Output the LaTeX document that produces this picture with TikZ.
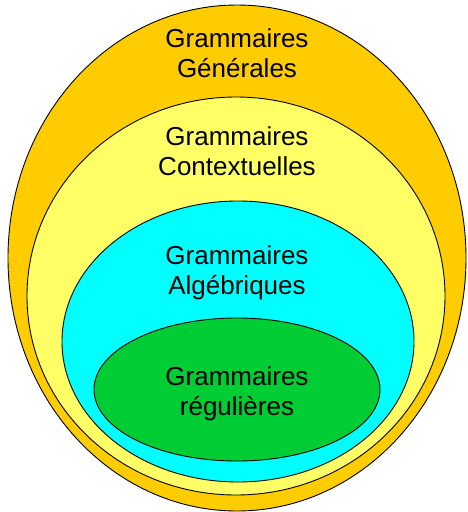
\documentclass[tikz,border=0pt]{standalone}
\usepackage{fontspec}
\setmainfont{Liberation Sans}
\definecolor{generale}{HTML}{FFCC00}
\definecolor{contexte}{HTML}{FFFF66}
\definecolor{algebre}{HTML}{00FFFF}
\definecolor{reguliere}{HTML}{00CC33}

\begin{document}
\begin{tikzpicture}[x=1pt, y=-1pt,
    nom/.style={align=center, font=\fontsize{26}{30}\selectfont}]
    \useasboundingbox (0, 0) rectangle (467, 512);

    \filldraw[fill=generale, line width=0.9pt] (237, 258) ellipse [x radius=229pt, y radius=253pt];
    \filldraw[fill=contexte, line width=0.9pt] (236, 296) ellipse [x radius=209pt, y radius=199pt];
    \filldraw[fill=algebre, line width=0.9pt] (238, 341.5) ellipse [x radius=176pt, y radius=140.5pt];
    \filldraw[fill=reguliere, line width=0.9pt] (237, 389.5) ellipse [x radius=143pt, y radius=71.5pt];

    \node[nom] (gen) at (237, 53) {Grammaires\\Générales};
    \node[nom] (ctx) at (237, 151) {Grammaires\\Contextuelles};
    \node[nom] (alg) at (237, 273) {Grammaires\\Algébriques};
    \node[nom] (reg) at (237, 394) {Grammaires\\régulières};
  \end{tikzpicture}
\end{document}
